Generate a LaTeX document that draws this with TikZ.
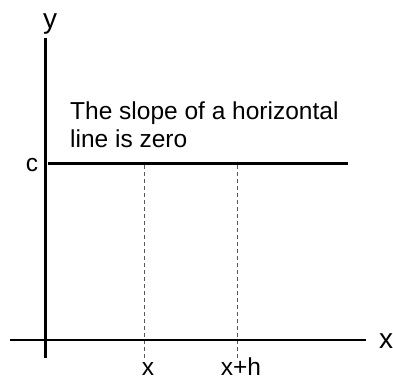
\documentclass[tikz,border=0pt]{standalone}
\usepackage{fontspec}
\setmainfont{Liberation Sans}
\begin{document}
\begin{tikzpicture}[x=1pt,y=1pt,
  axis/.style={line width=2.7pt},
  level/.style={line width=3pt},
  guide/.style={line width=0.9pt, black!65, dash pattern=on 4pt off 3pt},
  biglab/.style={font=\fontsize{28}{34}\selectfont, inner sep=0pt},
  lab/.style={font=\fontsize{24.5}{28}\selectfont, inner sep=0pt}]
\useasboundingbox (0,0) rectangle (393,381);
% coordinates (y measured upward: Y = 381 - ypx)
\coordinate (ytop) at (45.5,343);
\coordinate (ybot) at (45.5,23);
\coordinate (xleft) at (10,41);
\coordinate (xright) at (366,41);
\coordinate (hl) at (48,218);
\coordinate (hr) at (348,218);
\coordinate (d1t) at (144,216);
\coordinate (d1b) at (144,23);
\coordinate (d2t) at (237.5,216);
\coordinate (d2b) at (237.5,23);
% dashed guides
\draw[guide] (d1t) -- (d1b);
\draw[guide] (d2t) -- (d2b);
% axes
\draw[axis] (ytop) -- (ybot);
\draw[axis] (xleft) -- (xright);
% horizontal line
\draw[level] (hl) -- (hr);
% labels
\node[biglab, anchor=base] (ylab) at (50,352) {y};
\node[biglab, anchor=base] (xlab) at (386,33) {x};
\node[lab, anchor=base] (clab) at (32,210) {c};
\node[lab, anchor=base] (xtick) at (148,5.5) {x};
\node[lab, anchor=base] (xhtick) at (241,5.5) {x+h};
\node[lab, anchor=base west, align=left] (note) at (70,234) {The slope of a horizontal\\line is zero};
\end{tikzpicture}
\end{document}
